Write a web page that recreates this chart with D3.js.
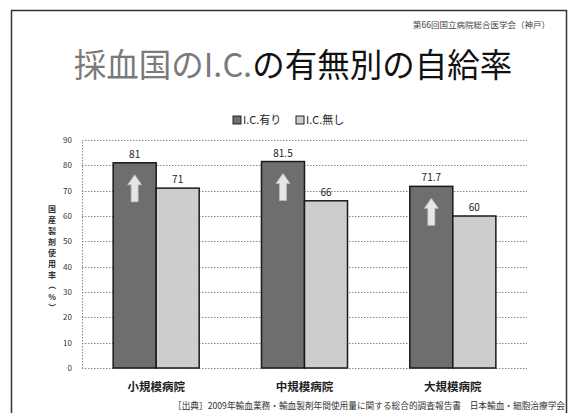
<!DOCTYPE html>
<html>
<head>
<meta charset="utf-8">
<script src="https://cdn.jsdelivr.net/npm/d3@7/dist/d3.min.js"></script>
<style>
  html, body { margin: 0; padding: 0; background: #fff; }
  svg { display: block; }
  text { font-family: "Noto Sans CJK JP", "Noto Sans", sans-serif; }
</style>
</head>
<body>
<svg id="chart" width="574" height="413"></svg>
<script>
// Hospital size categories and the two series (with / without I.C.)
const categories = ["小規模病院", "中規模病院", "大規模病院"];
const seriesNames = ["I.C.有り", "I.C.無し"];
const icYes = [81, 81.5, 71.7];
const icNo = [71, 66, 60];
const yTicks = [0, 10, 20, 30, 40, 50, 60, 70, 80, 90];

const titleGray = "採血国のI.C.";
const titleBlack = "の有無別の自給率";
const headerNote = "第66回国立病院総合医学会（神戸）";
const yTitle = "国産製剤使用率（%）";
const sourceNote = "［出典］2009年輸血業務・輸血製剤年間使用量に関する総合的調査報告書　日本輸血・細胞治療学会";

const seriesValues = [icYes, icNo];
const seriesFill = ["#6e6e6e", "#cdcdcd"];

const svg = d3.select("#chart");

// slide frame
svg.append("rect")
  .attr("x", 11.5).attr("y", 10.5)
  .attr("width", 555).attr("height", 420)
  .attr("fill", "none").attr("stroke", "#333").attr("stroke-width", 1.5);

// header note, top right
svg.append("text")
  .attr("x", 550).attr("y", 28)
  .attr("text-anchor", "end")
  .attr("font-size", 8.5).attr("fill", "#444")
  .text(headerNote);

// title in two tones
const title = svg.append("text")
  .attr("x", 293).attr("y", 77)
  .attr("text-anchor", "middle")
  .attr("font-size", 32.5);
title.append("tspan").attr("fill", "#7a7a7a").text(titleGray);
title.append("tspan").attr("fill", "#111").text(titleBlack);

// scales
const plot = { left: 82, right: 527, top: 140, bottom: 368 };
const x0 = d3.scaleBand().domain(categories)
  .range([plot.left, plot.right]).paddingInner(0.42).paddingOuter(0.21);
const x1 = d3.scaleBand().domain(d3.range(seriesNames.length))
  .range([0, x0.bandwidth()]);
const y = d3.scaleLinear().domain([0, 90]).range([plot.bottom, plot.top]);

// gridlines
svg.append("g").selectAll("line").data(yTicks).join("line")
  .attr("x1", plot.left).attr("x2", plot.right)
  .attr("y1", d => Math.round(y(d)) + 0.5).attr("y2", d => Math.round(y(d)) + 0.5)
  .attr("stroke", "#8a8a8a").attr("stroke-width", 1)
  .attr("stroke-dasharray", "1.5,1.5");

// y axis
const yAxis = d3.axisLeft(y).tickValues(yTicks).tickSize(0).tickPadding(10);
const gy = svg.append("g").attr("transform", `translate(${plot.left},0)`).call(yAxis);
gy.select(".domain").attr("stroke", "#8a8a8a").attr("stroke-dasharray", "1.5,1.5");
gy.selectAll("text").attr("font-size", 8).attr("fill", "#333")
  .attr("font-family", "\"DejaVu Sans\", sans-serif");

// y axis title: characters stacked top to bottom, brackets turned sideways
const yChars = Array.from(yTitle);
const yFs = 8, yStep = 11, yCx = 52;
const yTop = 258 - (yChars.length - 1) * yStep / 2;
const isBracket = c => c === "（" || c === "）";
svg.append("text")
  .attr("text-anchor", "middle")
  .attr("font-size", yFs).attr("font-weight", "bold").attr("fill", "#333")
  .selectAll("tspan").data(yChars).join("tspan")
  .attr("x", (c) => isBracket(c) ? yCx + 1 : yCx)
  .attr("y", (c, i) => {
    const cy = yTop + i * yStep;
    return isBracket(c) ? cy - 4 : cy + 3;
  })
  .attr("rotate", c => isBracket(c) ? 90 : null)
  .text(c => c);

// bars
const groups = svg.append("g").selectAll("g").data(categories).join("g")
  .attr("transform", d => `translate(${x0(d)},0)`);

seriesValues.forEach((vals, s) => {
  groups.append("rect")
    .attr("x", x1(s))
    .attr("y", (d, i) => y(vals[i]))
    .attr("width", x1.bandwidth())
    .attr("height", (d, i) => y(0) - y(vals[i]))
    .attr("fill", seriesFill[s])
    .attr("stroke", "#1a1a1a").attr("stroke-width", 1.5);

  groups.append("text")
    .attr("x", x1(s) + x1.bandwidth() / 2)
    .attr("y", (d, i) => y(vals[i]) - 5)
    .attr("text-anchor", "middle")
    .attr("font-size", 10).attr("fill", "#222")
    .attr("font-family", "\"DejaVu Sans\", sans-serif")
    .text((d, i) => String(vals[i]));
});

// up arrows inside the I.C.-yes bars
const arrowPath = (cx, top) => {
  const hw = 7, sw = 3.5, hh = 10, len = 27;
  return `M${cx},${top} L${cx + hw},${top + hh} L${cx + sw},${top + hh} L${cx + sw},${top + len}` +
         ` L${cx - sw},${top + len} L${cx - sw},${top + hh} L${cx - hw},${top + hh} Z`;
};
groups.append("path")
  .attr("d", (d, i) => arrowPath(x1(0) + x1.bandwidth() / 2, y(icYes[i]) + 12))
  .attr("fill", "#e6e6e6").attr("stroke", "#bdbdbd").attr("stroke-width", 0.8);

// category labels
svg.append("g").selectAll("text").data(categories).join("text")
  .attr("x", d => x0(d) + x0.bandwidth() / 2)
  .attr("y", 391)
  .attr("text-anchor", "middle")
  .attr("font-size", 11.5).attr("font-weight", "bold").attr("fill", "#222")
  .text(d => d);

// legend
const legend = svg.append("g").attr("transform", "translate(233,120)");
const legendItems = [{ x: 0 }, { x: 63 }];
seriesNames.forEach((name, s) => {
  const g = legend.append("g").attr("transform", `translate(${legendItems[s].x},0)`);
  g.append("rect").attr("x", 0).attr("y", -4).attr("width", 8).attr("height", 8)
    .attr("fill", seriesFill[s]).attr("stroke", "#222").attr("stroke-width", 1);
  g.append("text").attr("x", 10).attr("y", 4)
    .attr("font-size", 11).attr("fill", "#222").text(name);
});

// source note
const src = svg.append("text")
  .attr("x", 173).attr("y", 409)
  .attr("font-size", 8.7).attr("fill", "#333")
  .text(sourceNote);
const srcLen = src.node().getComputedTextLength();
if (srcLen > 392) src.attr("textLength", 392).attr("lengthAdjust", "spacingAndGlyphs");
</script>
</body>
</html>
